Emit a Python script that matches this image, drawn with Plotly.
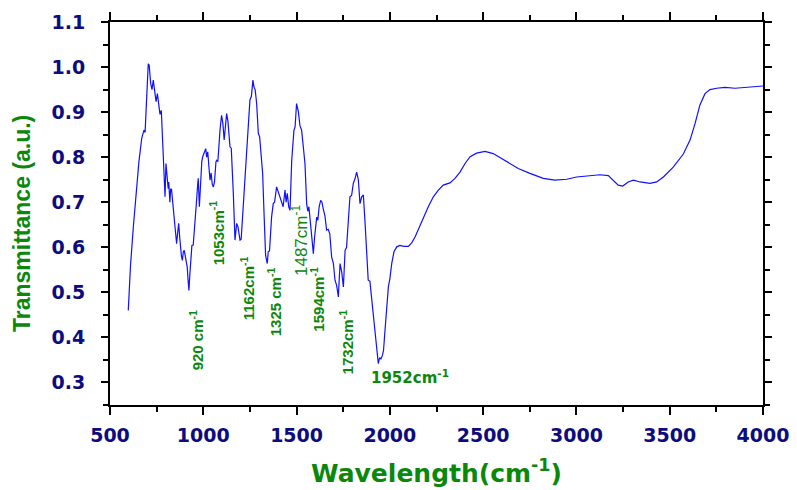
import plotly.graph_objects as go

wavenumber = [598, 610, 625, 640, 655, 670, 682, 688, 695, 702, 705, 710, 718, 725, 732, 740, 747, 754, 760, 768,
              775, 779, 786, 790, 795, 800, 807, 812, 815, 818, 821, 825, 830, 835, 840, 845, 850, 857, 862, 868,
              874, 879, 883, 888, 893, 898, 905, 914, 918, 923, 928, 932, 939, 946, 956, 964, 970, 973, 979, 986,
              992, 997, 1005, 1013, 1018, 1024, 1030, 1036, 1042, 1048, 1054, 1060, 1068, 1072, 1078, 1084, 1090,
              1098, 1105, 1112, 1118, 1125, 1132, 1138, 1143, 1150, 1155, 1161, 1170, 1175, 1179, 1186, 1192, 1197,
              1203, 1208, 1214, 1224, 1233, 1241, 1250, 1258, 1266, 1272, 1278, 1286, 1295, 1302, 1313, 1318, 1325,
              1334, 1343, 1348, 1355, 1366, 1375, 1382, 1393, 1400, 1410, 1420, 1428, 1438, 1444, 1450, 1458, 1465,
              1474, 1486, 1492, 1500, 1505, 1510, 1518, 1527, 1536, 1545, 1554, 1560, 1566, 1572, 1580, 1590, 1596,
              1602, 1608, 1614, 1621, 1629, 1636, 1643, 1652, 1661, 1670, 1678, 1688, 1697, 1706, 1715, 1724, 1733,
              1742, 1751, 1760, 1768, 1777, 1786, 1795, 1804, 1813, 1822, 1831, 1840, 1849, 1858, 1867, 1876, 1884,
              1893, 1902, 1911, 1920, 1929, 1938, 1945, 1952, 1960, 1966, 1974, 1983, 1992, 2000, 2010, 2022, 2037,
              2054, 2075, 2099, 2117, 2135, 2153, 2180, 2206, 2233, 2260, 2286, 2322, 2349, 2376, 2403, 2430, 2465,
              2510, 2554, 2590, 2626, 2688, 2751, 2822, 2885, 2948, 3001, 3064, 3126, 3171, 3198, 3224, 3248, 3278,
              3305, 3341, 3394, 3430, 3466, 3519, 3573, 3609, 3636, 3662, 3689, 3716, 3752, 3796, 3850, 3912, 4000]

transmittance = [0.46, 0.56, 0.645, 0.72, 0.79, 0.842, 0.86, 0.855, 0.93, 1.004, 1.007, 1.004, 0.964, 0.95, 0.971,
                 0.945, 0.923, 0.941, 0.925, 0.895, 0.904, 0.871, 0.793, 0.78, 0.712, 0.786, 0.756, 0.73, 0.745,
                 0.727, 0.70, 0.73, 0.728, 0.705, 0.682, 0.66, 0.623, 0.608, 0.63, 0.653, 0.62, 0.593, 0.58, 0.571,
                 0.59, 0.593, 0.58, 0.556, 0.53, 0.504, 0.54, 0.571, 0.604, 0.605, 0.653, 0.704, 0.74, 0.753, 0.69,
                 0.756, 0.79, 0.801, 0.81, 0.819, 0.80, 0.812, 0.78, 0.749, 0.765, 0.74, 0.734, 0.745, 0.79, 0.793,
                 0.79, 0.83, 0.862, 0.893, 0.875, 0.838, 0.87, 0.897, 0.88, 0.85, 0.823, 0.82, 0.78, 0.719, 0.616,
                 0.635, 0.653, 0.645, 0.625, 0.616, 0.618, 0.65, 0.682, 0.764, 0.801, 0.867, 0.927, 0.935, 0.971,
                 0.955, 0.950, 0.919, 0.853, 0.845, 0.786, 0.765, 0.682, 0.582, 0.564, 0.59, 0.592, 0.667, 0.697,
                 0.70, 0.734, 0.725, 0.71, 0.697, 0.69, 0.727, 0.70, 0.72, 0.69, 0.682, 0.793, 0.86, 0.867, 0.919,
                 0.91, 0.90, 0.87, 0.86, 0.823, 0.786, 0.697, 0.68, 0.69, 0.667, 0.64, 0.586, 0.62, 0.648, 0.667,
                 0.66, 0.69, 0.704, 0.70, 0.685, 0.67, 0.638, 0.64, 0.63, 0.578, 0.565, 0.527, 0.515, 0.49, 0.564,
                 0.545, 0.512, 0.593, 0.60, 0.653, 0.712, 0.715, 0.742, 0.752, 0.767, 0.75, 0.697, 0.712, 0.716,
                 0.655, 0.593, 0.527, 0.525, 0.49, 0.445, 0.405, 0.371, 0.342, 0.355, 0.352, 0.36, 0.371, 0.416,
                 0.46, 0.512, 0.53, 0.564, 0.59, 0.601, 0.604, 0.602, 0.602, 0.61, 0.623, 0.641, 0.667, 0.69, 0.712,
                 0.727, 0.738, 0.743, 0.753, 0.767, 0.786, 0.801, 0.809, 0.813, 0.808, 0.799, 0.79, 0.775, 0.764,
                 0.753, 0.749, 0.751, 0.756, 0.758, 0.761, 0.759, 0.749, 0.738, 0.736, 0.745, 0.749, 0.745, 0.742,
                 0.745, 0.756, 0.778, 0.807, 0.838, 0.875, 0.916, 0.941, 0.95, 0.953, 0.955, 0.953, 0.955, 0.958]

# Peak labels and their positions (data coordinates)
peak_labels = ["920 cm<sup>-1</sup>", "1053cm<sup>-1</sup>", "1162cm<sup>-1</sup>", "1325 cm<sup>-1</sup>",
               "1487cm<sup>-1</sup>", "1594cm<sup>-1</sup>", "1732cm<sup>-1</sup>", "1952cm<sup>-1</sup>"]
peak_label_x = [965, 1073, 1234, 1379, 1518, 1610, 1765, 2108]
peak_label_y = [0.393, 0.633, 0.509, 0.478, 0.616, 0.484, 0.389, 0.313]

x_ticks = [500, 1000, 1500, 2000, 2500, 3000, 3500, 4000]
y_ticks = [0.3, 0.4, 0.5, 0.6, 0.7, 0.8, 0.9, 1.0, 1.1]

GREEN = "#0b870b"
NAVY = "#0c0c80"
TICKFONT = dict(family="DejaVu Sans", size=19, color=NAVY, weight="bold")
SANS = "Liberation Sans, Arial"

# page offset (browser body margin) compensation
W, H = 789, 482
L, R, T, B = 102, 34, 14, 85
PW = W - L - R
PH = H - T - B

fig = go.Figure()
fig.add_trace(go.Scatter(x=wavenumber, y=transmittance, mode="lines",
                         line=dict(color="#1010ff", width=1.2), showlegend=False))

for txt, xv, yv in zip(peak_labels, peak_label_x, peak_label_y):
    if txt.startswith("1952"):
        fig.add_annotation(x=xv, y=yv, text="<b>" + txt + "</b>", showarrow=False, textangle=0,
                           font=dict(family="DejaVu Sans", size=15, color=GREEN),
                           xanchor="center", yanchor="middle")
    elif txt.startswith("1487"):
        fig.add_annotation(x=xv, y=yv, text=txt, showarrow=False, textangle=-90,
                           font=dict(family=SANS, size=17, color=GREEN),
                           xanchor="center", yanchor="middle")
    else:
        fig.add_annotation(x=xv, y=yv, text="<b>" + txt + "</b>", showarrow=False, textangle=-90,
                           font=dict(family=SANS, size=15, color=GREEN),
                           xanchor="center", yanchor="middle")

# axis titles
fig.add_annotation(xref="paper", yref="paper", x=(22 - 110) / PW, y=(405 - 224) / PH,
                   text="<b>Transmittance (a.u.)</b>", textangle=-90, showarrow=False,
                   font=dict(family=SANS, size=23, color=GREEN),
                   xanchor="center", yanchor="middle")
fig.add_annotation(xref="paper", yref="paper", x=(437 - 110) / PW, y=-(471 - 405) / PH,
                   text="<b>Wavelength(cm<sup>-1</sup>)</b>", showarrow=False,
                   font=dict(family="DejaVu Sans", size=25, color=GREEN),
                   xanchor="center", yanchor="middle")

fig.update_xaxes(range=[500, 4000], tickvals=x_ticks, ticks="outside", ticklen=8, tickwidth=1.5,
                 tickcolor="black", showline=True, linecolor="black", linewidth=2, mirror="ticks",
                 showgrid=False, zeroline=False, tickfont=TICKFONT, ticklabelstandoff=4, automargin=False,
                 minor=dict(dtick=250, ticks="outside", ticklen=5, tickwidth=1.5, tickcolor="black"))
fig.update_yaxes(range=[0.25, 1.1], tickvals=y_ticks, tickformat=".1f", ticks="outside", ticklen=7,
                 tickwidth=1.5, tickcolor="black", showline=True, linecolor="black", linewidth=2,
                 mirror="ticks", showgrid=False, zeroline=False, tickfont=TICKFONT, ticklabelstandoff=12,
                 automargin=False,
                 minor=dict(dtick=0.05, tick0=0.25, ticks="outside", ticklen=5, tickwidth=1.5, tickcolor="black"))

fig.update_layout(width=W, height=H, margin=dict(l=L, r=R, t=T, b=B),
                  plot_bgcolor="white", paper_bgcolor="white")

fig.write_html("out.html")
